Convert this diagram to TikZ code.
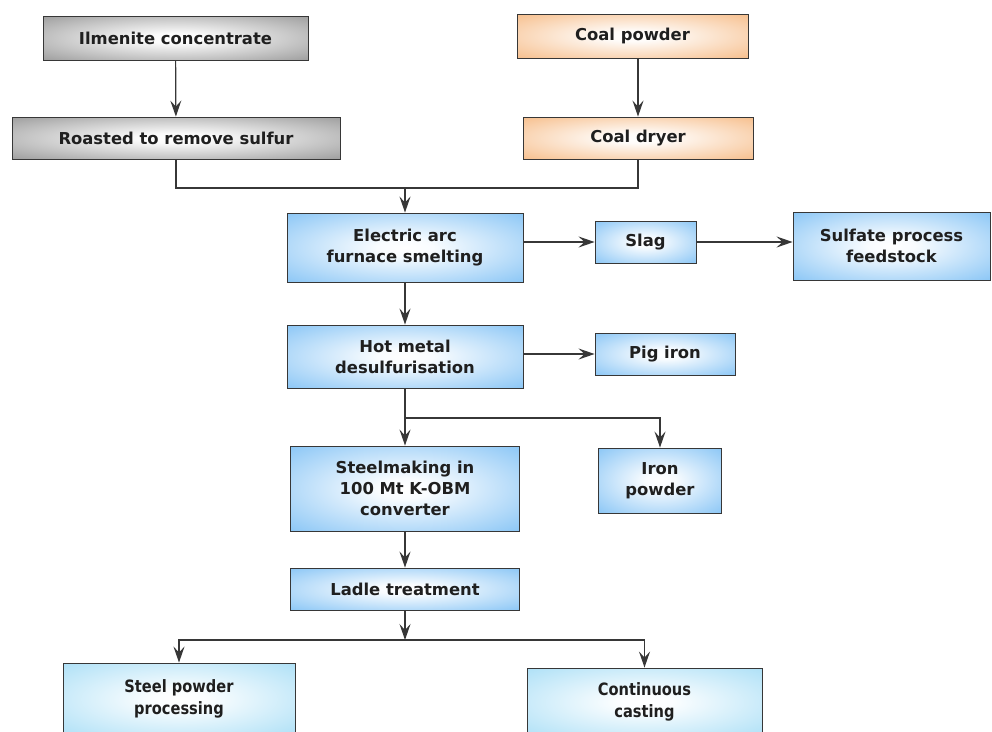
\documentclass[tikz,border=0pt]{standalone}
\usepackage{fontspec}
\setmainfont{DejaVu Sans}
\newfontfamily\narrowfont[FakeStretch=0.86]{DejaVu Sans}
\usetikzlibrary{arrows.meta}

\definecolor{bluefill}{RGB}{130,194,245}
\definecolor{orangefill}{RGB}{246,186,132}
\definecolor{grayfill}{RGB}{150,150,150}
\definecolor{cyanfill}{RGB}{168,222,246}
\definecolor{linecol}{RGB}{55,55,55}
\colorlet{boxedge}{bluefill}

% white-centred glow, edge colour taken from "boxedge" at use time
\pgfdeclareradialshading[boxedge]{glow}{\pgfpoint{0bp}{0bp}}%
  {color(0bp)=(white); color(6bp)=(white!95!boxedge); color(38bp)=(boxedge); color(50bp)=(boxedge)}

\tikzset{
  box/.style={draw=linecol, line width=0.9pt, shading=glow, align=center,
    inner sep=0pt, text=black!88,
    font=\fontsize{16.4}{21}\selectfont\bfseries},
  bluebox/.style={box, /utils/exec={\colorlet{boxedge}{bluefill}}},
  orangebox/.style={box, /utils/exec={\colorlet{boxedge}{orangefill}}},
  graybox/.style={box, /utils/exec={\colorlet{boxedge}{grayfill}}},
  cyanbox/.style={box, /utils/exec={\colorlet{boxedge}{cyanfill}},
    font=\narrowfont\fontsize{17}{22}\selectfont\bfseries},
  flow/.style={draw=linecol, line width=1.2pt},
  arr/.style={flow, -{Stealth[length=16pt,width=11pt,inset=6pt]}}
}

\begin{document}
\begin{tikzpicture}[x=1pt,y=-1pt]
  \clip (0,0) rectangle (992,731);
  \fill[white] (0,0) rectangle (992,731);

  % raw materials
  \node[graybox, minimum width=265pt, minimum height=44pt] (ilm) at (175.5,38) {Ilmenite concentrate};
  \node[graybox, minimum width=328pt, minimum height=42pt] (roast) at (176,138) {Roasted to remove sulfur};
  \node[orangebox, minimum width=231pt, minimum height=44pt] (coal) at (632.5,36) {Coal powder};
  \node[orangebox, minimum width=230pt, minimum height=42pt] (dryer) at (638,138) {Coal dryer};

  % smelting and refining
  \node[bluebox, minimum width=236pt, minimum height=69pt] (eaf) at (405,247.5) {Electric arc\\furnace smelting};
  \node[bluebox, minimum width=101pt, minimum height=42pt] (slag) at (645.5,242) {Slag};
  \node[bluebox, minimum width=197pt, minimum height=68pt] (sulf) at (891.5,246) {Sulfate process\\feedstock};
  \node[bluebox, minimum width=236pt, minimum height=63pt] (hot) at (405,356.5) {Hot metal\\desulfurisation};
  \node[bluebox, minimum width=140pt, minimum height=42pt] (pig) at (665,354) {Pig iron};
  \node[bluebox, minimum width=229pt, minimum height=85pt] (steel) at (405,488.5) {Steelmaking in\\100 Mt K-OBM\\converter};
  \node[bluebox, minimum width=123pt, minimum height=65pt] (iron) at (660,480.5) {Iron\\powder};
  \node[bluebox, minimum width=229pt, minimum height=42pt] (ladle) at (405,589) {Ladle treatment};

  % products
  \node[cyanbox, minimum width=232pt, minimum height=72pt] (spp) at (179,699) {Steel powder\\processing};
  \node[cyanbox, minimum width=235pt, minimum height=68pt] (cc) at (644.5,702) {Continuous\\casting};

  % junction points
  \coordinate (j1) at (405,188);
  \coordinate (j2) at (405,418);
  \coordinate (j4) at (405,640);

  % connectors
  \draw[arr] (ilm) -- (roast);
  \draw[arr] (dryer.north |- coal.south) -- (dryer.north);
  \draw[flow] (roast.south) |- (j1) -| (dryer.south);
  \draw[arr] (j1) -- (eaf.north);
  \draw[arr] (slag.west -| eaf.east) -- (slag.west);
  \draw[arr] (slag.east) -- (slag.east -| sulf.west);
  \draw[arr] (eaf) -- (hot);
  \draw[arr] (pig.west -| hot.east) -- (pig.west);
  \draw[flow] (hot.south) -- (j2);
  \draw[arr] (j2) -- (steel.north);
  \draw[arr] (j2) -| (iron.north);
  \draw[arr] (steel) -- (ladle);
  \draw[arr] (ladle.south) -- (j4);
  \draw[arr] (j4) -| (spp.north);
  \draw[arr] (j4) -| (cc.north);
\end{tikzpicture}
\end{document}
